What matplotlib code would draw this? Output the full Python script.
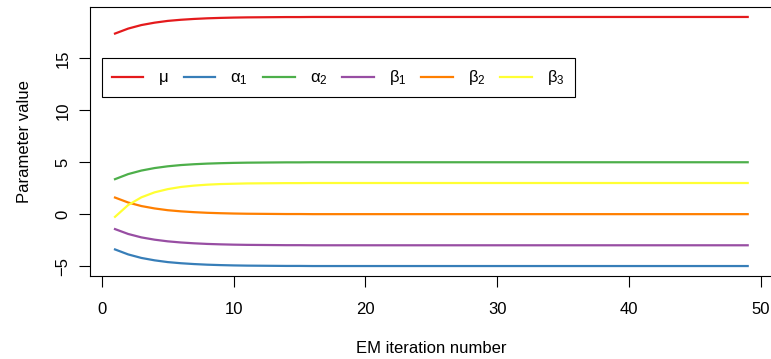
import matplotlib
matplotlib.use("Agg")
import matplotlib.pyplot as plt

plt.rcParams['font.family'] = ['Liberation Sans', 'DejaVu Sans']
plt.rcParams['mathtext.fontset'] = 'custom'
plt.rcParams['mathtext.rm'] = 'Liberation Sans'
plt.rcParams['font.size'] = 12

iteration = list(range(1, 50))

# values, one per EM iteration
mu = [17.40, 17.88, 18.22, 18.45, 18.62, 18.73, 18.81, 18.87, 18.91, 18.94,
      18.96, 18.97, 18.98, 18.99, 18.99, 19.00, 19.00, 19.00, 19.00, 19.00,
      19.00, 19.00, 19.00, 19.00, 19.00, 19.00, 19.00, 19.00, 19.00, 19.00,
      19.00, 19.00, 19.00, 19.00, 19.00, 19.00, 19.00, 19.00, 19.00, 19.00,
      19.00, 19.00, 19.00, 19.00, 19.00, 19.00, 19.00, 19.00, 19.00]
alpha1 = [-3.40, -3.88, -4.22, -4.45, -4.62, -4.73, -4.81, -4.87, -4.91, -4.94,
          -4.96, -4.97, -4.98, -4.99, -4.99, -5.00, -5.00, -5.00, -5.00, -5.00,
          -5.00, -5.00, -5.00, -5.00, -5.00, -5.00, -5.00, -5.00, -5.00, -5.00,
          -5.00, -5.00, -5.00, -5.00, -5.00, -5.00, -5.00, -5.00, -5.00, -5.00,
          -5.00, -5.00, -5.00, -5.00, -5.00, -5.00, -5.00, -5.00, -5.00]
alpha2 = [3.37, 3.86, 4.20, 4.44, 4.61, 4.73, 4.81, 4.87, 4.91, 4.94,
          4.96, 4.97, 4.98, 4.99, 4.99, 5.00, 5.00, 5.00, 5.00, 5.00,
          5.00, 5.00, 5.00, 5.00, 5.00, 5.00, 5.00, 5.00, 5.00, 5.00,
          5.00, 5.00, 5.00, 5.00, 5.00, 5.00, 5.00, 5.00, 5.00, 5.00,
          5.00, 5.00, 5.00, 5.00, 5.00, 5.00, 5.00, 5.00, 5.00]
beta1 = [-1.44, -1.91, -2.24, -2.46, -2.62, -2.73, -2.81, -2.87, -2.91, -2.94,
         -2.96, -2.97, -2.98, -2.99, -2.99, -3.00, -3.00, -3.00, -3.00, -3.00,
         -3.00, -3.00, -3.00, -3.00, -3.00, -3.00, -3.00, -3.00, -3.00, -3.00,
         -3.00, -3.00, -3.00, -3.00, -3.00, -3.00, -3.00, -3.00, -3.00, -3.00,
         -3.00, -3.00, -3.00, -3.00, -3.00, -3.00, -3.00, -3.00, -3.00]
beta2 = [1.60, 1.12, 0.78, 0.55, 0.38, 0.27, 0.19, 0.13, 0.09, 0.06,
         0.04, 0.03, 0.02, 0.01, 0.01, 0.00, 0.00, 0.00, 0.00, 0.00,
         0.00, 0.00, 0.00, 0.00, 0.00, 0.00, 0.00, 0.00, 0.00, 0.00,
         0.00, 0.00, 0.00, 0.00, 0.00, 0.00, 0.00, 0.00, 0.00, 0.00,
         0.00, 0.00, 0.00, 0.00, 0.00, 0.00, 0.00, 0.00, 0.00]
beta3 = [-0.26, 0.88, 1.62, 2.10, 2.41, 2.62, 2.75, 2.84, 2.90, 2.93,
         2.96, 2.97, 2.98, 2.99, 2.99, 3.00, 3.00, 3.00, 3.00, 3.00,
         3.00, 3.00, 3.00, 3.00, 3.00, 3.00, 3.00, 3.00, 3.00, 3.00,
         3.00, 3.00, 3.00, 3.00, 3.00, 3.00, 3.00, 3.00, 3.00, 3.00,
         3.00, 3.00, 3.00, 3.00, 3.00, 3.00, 3.00, 3.00, 3.00]

series = [mu, alpha1, alpha2, beta1, beta2, beta3]
labels = [r'$\mathregular{μ}$', r'$\mathregular{α_1}$', r'$\mathregular{α_2}$',
          r'$\mathregular{β_1}$', r'$\mathregular{β_2}$', r'$\mathregular{β_3}$']
colors = ['#E41A1C', '#377EB8', '#4DAF4A', '#984EA3', '#FF7F00', '#FFFF33']

fig = plt.figure(figsize=(7.71, 3.59), dpi=100)
ax = fig.add_axes([89.7 / 771, 1 - 276 / 359, (773 - 89.7) / 771, 269 / 359])

for vals, lab, col in zip(series, labels, colors):
    ax.plot(iteration, vals, color=col, lw=1.6, label=lab)

ax.set_xlim(-0.92, 50.92)
ax.set_ylim(-5.96, 19.96)
ax.set_xticks([0, 10, 20, 30, 40, 50])
ax.set_yticks([-5, 0, 5, 10, 15])
ax.set_yticklabels(['\u22125', '0', '5', '10', '15'], rotation=90, va='center')
ax.tick_params(direction='out', length=8, width=0.8)
ax.tick_params(axis='y', pad=6)
ax.tick_params(axis='x', pad=11)
for sp in ax.spines.values():
    sp.set_linewidth(0.8)

ax.set_xlabel('EM iteration number', labelpad=17)
ax.set_ylabel('Parameter value', labelpad=17)

leg = ax.legend(loc='upper left', bbox_to_anchor=(0, 15), bbox_transform=ax.transData,
                borderaxespad=0, ncol=6, fancybox=False, edgecolor='black',
                framealpha=1, handlelength=1.9, handletextpad=0.9,
                columnspacing=0.89, borderpad=0.6)
leg.get_frame().set_linewidth(0.8)

fig.savefig('out.png', dpi=100)
